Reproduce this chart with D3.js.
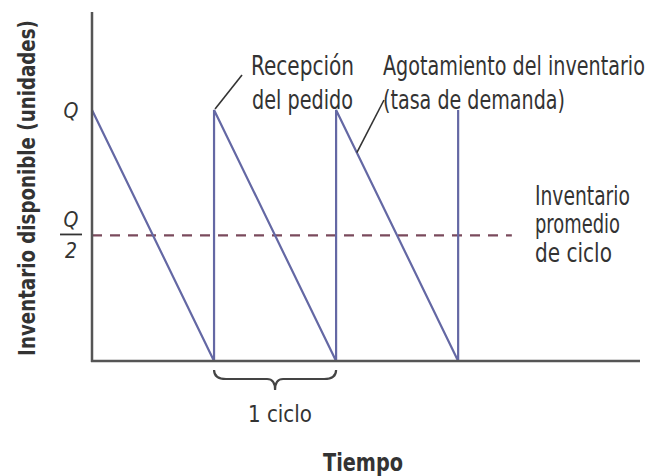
<!DOCTYPE html>
<html>
<head>
<meta charset="utf-8">
<script src="https://cdn.jsdelivr.net/npm/d3@7/dist/d3.min.js"></script>
<style>
  html, body { margin: 0; padding: 0; background: #ffffff; }
  svg { display: block; }
  text { font-family: "Liberation Sans Narrow", "Arial Narrow", "DejaVu Sans Condensed", "Liberation Sans", sans-serif; fill: #333; }
</style>
</head>
<body>
<svg id="chart" width="652" height="476"></svg>
<script>
// ---- data ----
const cycleTimes = [0, 1, 2, 3];               // order receipt instants (cycles)
const sawTimes   = [0, 1, 1, 2, 2, 3, 3];      // sawtooth vertices, time
const sawLevels  = [1, 0, 1, 0, 1, 0, 1];      // sawtooth vertices, inventory (fraction of Q)
const averageLevel = 0.5;                      // Q/2
const averageEnd = 3.44;                       // dashed line extends to this time
const yTickLabels = ["Q", "Q/2"];
const yTickValues = [1, 0.5];
const yTitle = "Inventario disponible (unidades)";
const xTitle = "Tiempo";
const cycleLabel = "1 ciclo";
const receiptLabel = ["Recepción", "del pedido"];
const depletionLabel = ["Agotamiento del inventario", "(tasa de demanda)"];
const averageLabel = ["Inventario", "promedio", "de ciclo"];

// ---- layout ----
const svg = d3.select("#chart");
const x = d3.scaleLinear().domain([0, 4.49]).range([92, 640]);
const y = d3.scaleLinear().domain([0, 1.39]).range([361, 12]);

const axisColor = "#555";
const lineColor = "#6468a4";
const dashColor = "#7a4a5c";

// dashed average line
svg.append("line")
  .attr("x1", x(0)).attr("x2", x(averageEnd))
  .attr("y1", y(averageLevel)).attr("y2", y(averageLevel))
  .attr("stroke", dashColor).attr("stroke-width", 2.2)
  .attr("stroke-dasharray", "10,8");

// sawtooth
const pts = sawTimes.map((t, i) => [t, sawLevels[i]]);
svg.append("path")
  .attr("d", d3.line().x(d => x(d[0])).y(d => y(d[1]))(pts))
  .attr("fill", "none").attr("stroke", lineColor).attr("stroke-width", 2.2)
  .attr("stroke-linejoin", "miter");

// axes (plain lines, no ticks)
svg.append("line").attr("x1", x(0)).attr("x2", x(0)).attr("y1", y(0) + 1).attr("y2", y(1.39))
  .attr("stroke", axisColor).attr("stroke-width", 2.5);
svg.append("line").attr("x1", x(0) - 1).attr("x2", x(4.49)).attr("y1", y(0)).attr("y2", y(0))
  .attr("stroke", axisColor).attr("stroke-width", 2.5);

// y tick labels
svg.append("text").text(yTickLabels[0])
  .attr("x", 71).attr("y", y(yTickValues[0]) + 8)
  .attr("text-anchor", "middle").attr("font-size", 21).attr("font-style", "italic");
const qy = y(yTickValues[1]);
svg.append("text").text(yTickLabels[1].split("/")[0])
  .attr("x", 71).attr("y", qy - 8)
  .attr("text-anchor", "middle").attr("font-size", 21).attr("font-style", "italic");
svg.append("line").attr("x1", 60).attr("x2", 82).attr("y1", qy - 1).attr("y2", qy - 1)
  .attr("stroke", "#333").attr("stroke-width", 1.8);
svg.append("text").text(yTickLabels[1].split("/")[1])
  .attr("x", 71).attr("y", qy + 23)
  .attr("text-anchor", "middle").attr("font-size", 21).attr("font-style", "italic");

// helper: text squeezed horizontally to a target width via a transform
function label(str, xx, yy, len, size, weight, rotate) {
  const g = svg.append("g");
  const t = g.append("text").text(str)
    .attr("x", 0).attr("y", 0)
    .attr("font-size", size).attr("font-weight", weight || "normal");
  const natural = t.node().getComputedTextLength() || len;
  const sx = Math.min(1, len / natural);
  if (rotate) {
    t.attr("text-anchor", "middle");
    g.attr("transform", `translate(${xx},${yy}) rotate(-90) scale(${sx},1)`);
  } else {
    g.attr("transform", `translate(${xx},${yy}) scale(${sx},1)`);
  }
  return t;
}

// y title
label(yTitle, 35, 188, 336, 23, "bold", true).attr("fill", "#444");

// annotations
label(receiptLabel[0], 251, 75, 103, 26);
label(receiptLabel[1], 252, 109, 101, 26);
label(depletionLabel[0], 383, 75, 262, 26);
label(depletionLabel[1], 383, 109, 182, 26);
label(averageLabel[0], 535, 205, 95, 26);
label(averageLabel[1], 535, 233, 85, 26);
label(averageLabel[2], 535, 262, 77, 26);

// leader lines
svg.append("line")
  .attr("x1", x(cycleTimes[1]) + 1).attr("y1", y(1) - 1)
  .attr("x2", 242).attr("y2", 75)
  .attr("stroke", "#333").attr("stroke-width", 1.6);
const tMid = 2.17;
svg.append("line")
  .attr("x1", x(tMid)).attr("y1", y(1 - (tMid - 2)))
  .attr("x2", 384).attr("y2", 100)
  .attr("stroke", "#333").attr("stroke-width", 1.6);

// brace under one cycle
const bx0 = x(cycleTimes[1]), bx1 = x(cycleTimes[2]), bm = (bx0 + bx1) / 2;
const by0 = 370, by1 = 379, by2 = 390;
const brace = `M${bx0},${by0} Q${bx0},${by1} ${bx0 + 12},${by1} L${bm - 8},${by1} Q${bm},${by1} ${bm},${by2} Q${bm},${by1} ${bm + 8},${by1} L${bx1 - 12},${by1} Q${bx1},${by1} ${bx1},${by0}`;
svg.append("path").attr("d", brace).attr("fill", "none")
  .attr("stroke", "#444").attr("stroke-width", 2.2);

label(cycleLabel, 248, 422, 64, 23).attr("fill", "#444");

// x title
label(xTitle, 323, 471, 80, 25, "bold").attr("fill", "#333");
</script>
</body>
</html>
